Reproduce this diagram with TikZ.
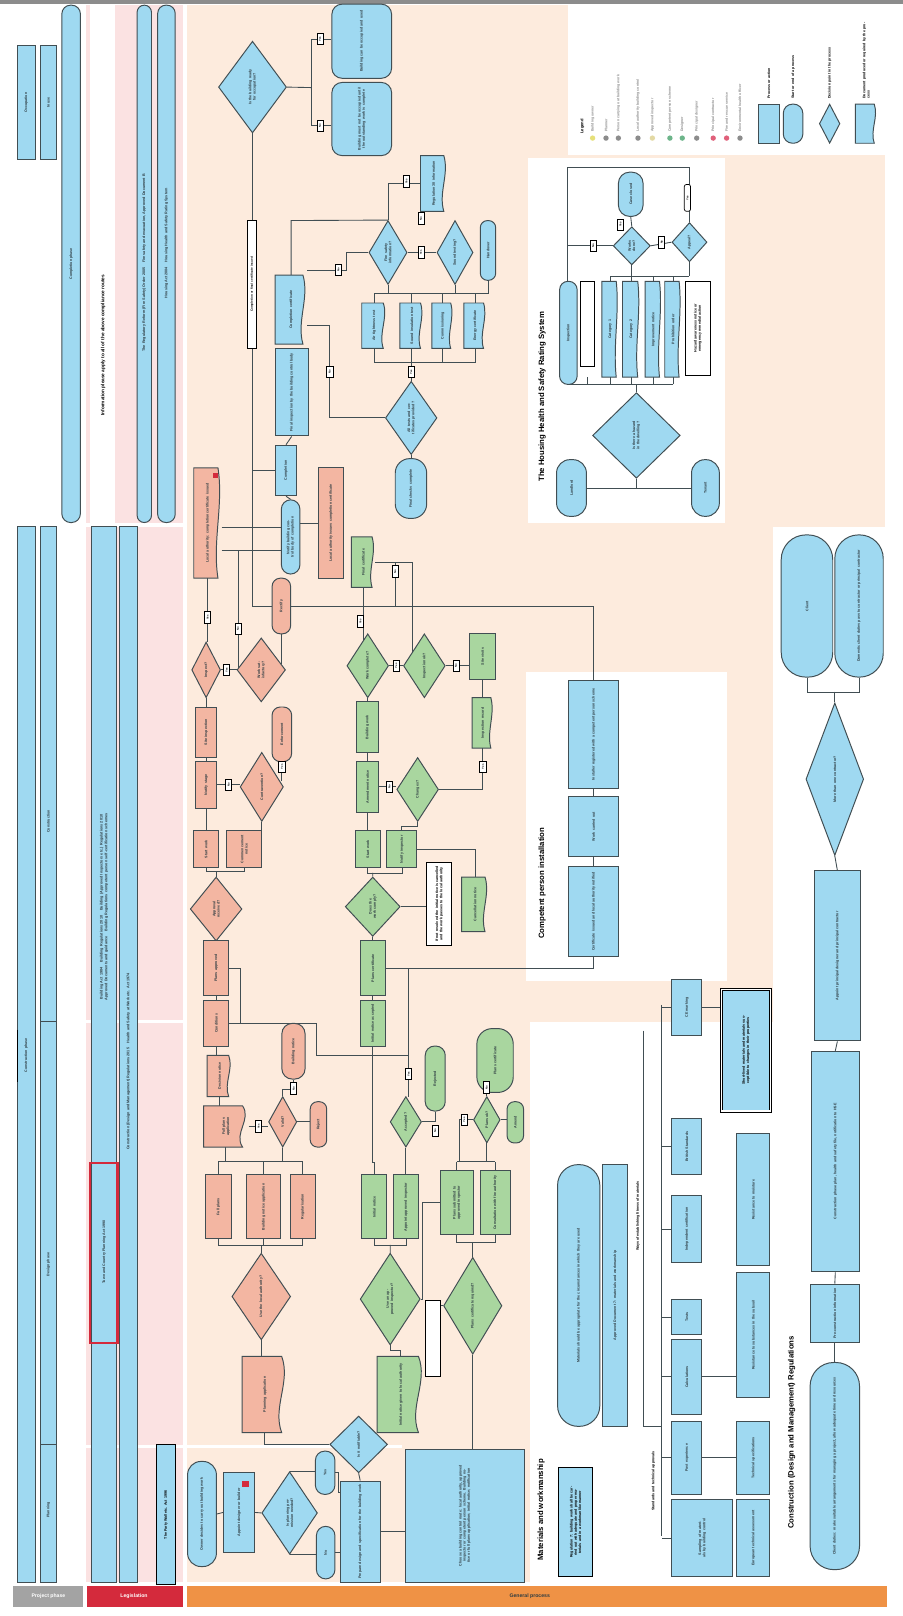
\documentclass[tikz,border=0pt]{standalone}
\usepackage{fontspec}
\setmainfont{Liberation Sans}
\usetikzlibrary{shapes.geometric}
\pgfdeclarelayer{bg}\pgfdeclarelayer{lines}
\pgfsetlayers{bg,lines,main}
\definecolor{peach}{HTML}{FDEBDD}
\definecolor{pinkbg}{HTML}{FBE2E2}
\definecolor{blueF}{HTML}{9FD9F1}
\definecolor{lineC}{HTML}{414E53}
\definecolor{pinkF}{HTML}{F3B6A2}
\definecolor{greenF}{HTML}{A9D69F}
\definecolor{txtC}{HTML}{2E3C42}
\definecolor{greyBar}{HTML}{A3A3A3}
\definecolor{redBar}{HTML}{D42A3C}
\definecolor{orangeBar}{HTML}{EF9245}
\definecolor{legG}{HTML}{8C8C8C}
\definecolor{dotY}{HTML}{E6E07A}
\definecolor{dotB}{HTML}{E3D9A4}
\definecolor{dotG}{HTML}{6DB58A}
\definecolor{dotR}{HTML}{E0607A}
\tikzset{
 bx/.style={draw=lineC, fill=blueF, line width=0.95pt, inner sep=0pt},
 pbx/.style={bx, fill=pinkF},
 gbx/.style={bx, fill=greenF},
 wbx/.style={draw=black, fill=white, line width=0.95pt, inner sep=0pt},
 txt/.style={font=\bfseries\fontsize{3.5}{4.1}\selectfont, text=txtC, align=center, inner sep=0pt},
 btxt/.style={font=\bfseries\fontsize{3.5}{4.1}\selectfont, text=black, align=center, inner sep=0pt},
 ttl/.style={font=\bfseries\fontsize{7.5}{8}\selectfont, text=black, inner sep=0pt, rotate=90},
 ln/.style={draw=lineC, line width=0.85pt},
 lab/.style={draw=black, fill=white, line width=0.7pt, inner sep=0pt, minimum width=6pt, minimum height=11pt, font=\bfseries\fontsize{2.6}{3}\selectfont, text=black},
}
\newcommand\RN[7]{%
 \pgfmathsetmacro\myW{#4-#2}\pgfmathsetmacro\myH{#5-#3}%
 \pgfmathsetmacro\myX{(#2+#4)/2}\pgfmathsetmacro\myY{(#3+#5)/2}%
 \pgfmathsetmacro\myT{max(#5-#3-6,4)}%
 \node[#1, minimum width=\myW pt, minimum height=\myH pt] (#6) at (\myX,\myY) {};
 \node[txt, rotate=90, text width=\myT pt] at (#6.center) {#7};}
\newcommand\DN[7]{%
 \pgfmathsetmacro\myW{#4-#2}\pgfmathsetmacro\myH{#5-#3}%
 \pgfmathsetmacro\myX{(#2+#4)/2}\pgfmathsetmacro\myY{(#3+#5)/2}%
 \pgfmathsetmacro\myT{max((#5-#3)*0.5,4)}%
 \node[#1, diamond, minimum width=\myW pt, minimum height=\myH pt] (#6) at (\myX,\myY) {};
 \node[txt, rotate=90, text width=\myT pt] at (#6.center) {#7};}
\newcommand\DOC[7]{%
 \pgfmathsetmacro\myW{#4-#2}\pgfmathsetmacro\myH{#5-#3}%
 \pgfmathsetmacro\myX{(#2+#4)/2}\pgfmathsetmacro\myY{(#3+#5)/2}%
 \pgfmathsetmacro\myT{max(#5-#3-6,4)}%
 \pgfmathsetmacro\myD{0.13*(#4-#2)}%
 \pgfmathsetmacro\myR{#4-\myD}%
 \pgfmathsetmacro\myA{#3+(#5-#3)/3}\pgfmathsetmacro\myB{#3+2*(#5-#3)/3}%
 \pgfmathsetmacro\myP{#4+\myD*0.6}\pgfmathsetmacro\myQ{#4-\myD*2.6}%
 \node[minimum width=\myW pt, minimum height=\myH pt, inner sep=0pt] (#6) at (\myX,\myY) {};
 \draw[bx, fill=#1] (#2,#3) -- (\myR,#3) .. controls (\myP,\myA) and (\myQ,\myB) .. (\myR,#5) -- (#2,#5) -- cycle;
 \node[txt, rotate=90, text width=\myT pt] at (#6.center) {#7};}
\begin{document}
\begin{tikzpicture}[x=1pt,y=-1pt]
\useasboundingbox (0,0) rectangle (876,1568);
% ---------- backgrounds
\begin{pgfonlayer}{bg}
\fill[white] (0,0) rectangle (876,1568);
\fill[pinkbg] (83,5) rectangle (178,1535);
\fill[white] (87,5) rectangle (112,507);
\fill[peach] (181,5) rectangle (859,1535);
\fill[white] (551,0) rectangle (876,150);
\fill[white] (512,153) rectangle (703,507);
\fill[white] (750,511) rectangle (876,1535);
\fill[white] (510,652) rectangle (705,952);
\fill[white] (514,992) rectangle (859,1535);
\fill[white] (83,507) rectangle (181,511);
\fill[white] (83,990) rectangle (181,993);
\fill[white] (83,1402) rectangle (390,1405);
\fill[black!45] (0,0) rectangle (876,4);
\end{pgfonlayer}
% ---------- bottom bars
\fill[greyBar] (13,1539) rectangle (81,1559);
\node[font=\bfseries\fontsize{5}{6}\selectfont, text=white] at (47,1549) {Project phase};
\fill[redBar] (84,1539) rectangle (178,1559);
\node[font=\bfseries\fontsize{5}{6}\selectfont, text=white] at (130,1549) {Legislation};
\fill[orangeBar] (181,1539) rectangle (861,1559);
\node[font=\bfseries\fontsize{5}{6}\selectfont, text=txtC] at (514,1549) {General process};
% ---------- left lanes
\RN{bx}{17}{44}{34}{155}{s1}{Occupation}
\RN{bx}{39}{44}{55}{155}{s2}{In use}
\RN{bx, rounded corners=8.5pt}{60}{5}{78}{507}{s3}{Completion phase}
\node[font=\bfseries\fontsize{4.6}{5}\selectfont, rotate=90, text=black] at (100,335) {Information please apply to all of the above compliance routes};
\RN{bx, rounded corners=7pt}{133}{5}{147}{507}{s4}{}
\node[txt, rotate=90, font=\bfseries\fontsize{3.6}{4}\selectfont] at (140,255) {The Regulatory Reform (Fire Safety) Order 2005 \quad Fire safety and evacuation, Approved Document B};
\RN{bx, rounded corners=8pt}{153}{5}{170}{507}{s5}{}
\node[txt, rotate=90, font=\bfseries\fontsize{3.6}{4}\selectfont] at (161.5,236) {Housing Act 2004 \quad Housing Health and Safety Rating System};
\RN{bx}{17}{511}{34}{1535}{b1}{}
\node[txt, rotate=90] at (25.5,1024) {Construction phase};
\draw[black, line width=1.2pt] (17,999) -- (17,1050);
\RN{bx}{39}{511}{55}{991}{b2a}{}
\node[txt, rotate=90] at (47,797) {Construction};
\RN{bx}{39}{991}{55}{1402}{b2b}{}
\node[txt, rotate=90] at (47,1227) {Design phase};
\RN{bx}{39}{1402}{55}{1535}{b2c}{}
\node[txt, rotate=90] at (47,1465) {Planning};
\RN{bx}{89}{511}{113}{1535}{b3}{}
\node[txt, rotate=90, text width=520pt, font=\bfseries\fontsize{3.6}{4.6}\selectfont] at (101,880) {Building Act 1984 \quad Building Regulations 2010 \quad Building (Approved Inspectors etc.) Regulations 2010\\ Approved Documents and guidance \quad Building Regulations competent person self-certification schemes};
\draw[redBar, line width=2pt] (87,1128) rectangle (114,1303);
\node[txt, rotate=90] at (101,1215) {Town and Country Planning Act 1990};
\RN{bx}{116}{511}{133}{1535}{b4}{}
\node[txt, rotate=90, font=\bfseries\fontsize{3.6}{4}\selectfont] at (124.5,1030) {Construction (Design and Management) Regulations 2015 \quad Health and Safety at Work etc. Act 1974};
\RN{wbx, fill=blueF}{152}{1402}{170}{1537}{pw}{}
\node[btxt, rotate=90] at (161,1470) {The Party Wall etc. Act 1996};
% ---------- completion / occupation band (blue)
\DN{bx}{212}{40}{278}{129}{T1}{Is the building ready for occupation?}
\RN{bx, rounded corners=10pt}{322}{4}{380}{76}{T2}{Building can be occupied and used}
\RN{bx, rounded corners=10pt}{322}{80}{380}{151}{T3}{Building must not be occupied until the outstanding work is complete}
\RN{wbx}{240}{214}{249}{338}{T4}{}
\node[btxt, rotate=90, text width=118pt, font=\bfseries\fontsize{3}{3.4}\selectfont] at (T4.center) {Completion or final certificate issued};
\DOC{blueF}{267}{267}{298}{334}{T5}{Completion certificate}
\RN{bx}{267}{338}{299}{423}{T6}{Final inspection by the building control body}
\RN{bx}{267}{432}{288}{481}{T16}{Completion}
\RN{bx, rounded corners=9pt}{273}{485}{291}{557}{T17}{Notify building control body of completion}
\DN{bx}{358}{214}{395}{276}{TA}{Fire safety information?}
\DN{bx}{424}{214}{459}{276}{TB}{Sound testing?}
\DOC{blueF}{408}{151}{434}{205}{TC}{Regulation 38 information}
\RN{bx, rounded corners=7pt}{466}{214}{481}{272}{TD}{Handover}
\DOC{blueF}{351}{294}{375}{338}{TE1}{Air tightness test}
\DOC{blueF}{388}{294}{411}{338}{TE2}{Sound insulation test}
\DOC{blueF}{419}{294}{440}{338}{TE3}{Commissioning}
\DOC{blueF}{450}{294}{472}{338}{TE4}{Energy certificate}
\DN{bx}{374}{370}{424}{441}{TF}{All tests and certificates provided?}
\RN{bx, rounded corners=14pt}{383.5}{445}{414}{503}{TG}{Final checks complete}
% ---------- construction band (pink)
\RN{pbx}{309}{454}{333}{561}{PK}{Local authority issues completion certificate}
\DOC{pinkF}{188}{454}{215}{561}{PA}{Local authority: completion certificate issued}
\fill[redBar] (207,459) rectangle (212,464);
\DN{pbx}{186}{623}{214}{677}{PE}{Inspect?}
\DN{pbx}{230}{619}{277}{681}{PF}{Work satisfactory?}
\RN{pbx, rounded corners=8pt}{264}{561}{282}{615}{PG}{Rectify}
\RN{pbx}{189.5}{686}{210.5}{735}{PH}{Site inspection}
\RN{pbx}{189.5}{739}{210.5}{784}{PI}{Notify stage}
\DN{pbx}{233}{730}{275}{797}{PJ}{Contravention?}
\RN{pbx, rounded corners=8pt}{264}{686}{283}{739}{PKk}{Enforcement}
\RN{pbx}{188}{806}{212}{842}{PL}{Start work}
\RN{pbx}{220}{806}{254}{842}{PM}{Commencement notice}
\DN{pbx}{184.6}{851}{234.8}{913}{PN}{Approval received?}
\RN{pbx}{197.6}{913}{222}{966}{PO}{Plans approved}
\RN{pbx}{197.6}{971}{222}{1015}{PP}{Conditions}
\DOC{pinkF}{201}{1024}{225}{1064}{PQ}{Decision notice}
\DOC{pinkF}{197.6}{1073}{241}{1113}{PR}{Full plans application}
\DN{pbx}{260.6}{1064}{288}{1113}{PV}{Valid?}
\RN{pbx, rounded corners=10pt}{273.5}{993}{296}{1047}{PW}{Building notice}
\RN{pbx, rounded corners=7pt}{301}{1069}{317}{1113}{PX}{Reject}
\RN{pbx}{199}{1140}{225}{1202}{PS}{Full plans}
\RN{pbx}{239.6}{1140}{272}{1202}{PT}{Building notice application}
\RN{pbx}{281.6}{1140}{306}{1202}{PU}{Regularisation}
\DN{pbx}{225}{1216}{282}{1300}{PDi}{Use the local authority?}
\DOC{pinkF}{235}{1316}{279}{1390}{PD}{Planning application}
% ---------- green (approved inspector)
\DOC{greenF}{341}{521}{364}{570}{G1}{Final certificate}
\DN{gbx}{336.6}{615}{377}{677}{G2}{Work complete?}
\DN{gbx}{391.5}{615}{432}{677}{G3}{Inspection ok?}
\RN{gbx}{456}{615}{480.5}{659}{G4}{Site visits}
\DOC{greenF}{458}{677}{479}{726}{G5}{Inspection record}
\RN{gbx}{346}{681}{367.3}{730}{G6}{Building work}
\RN{gbx}{346}{739}{367.3}{788}{G7}{Amendment notice}
\DN{gbx}{385}{735}{425.5}{797}{G8}{Changes?}
\RN{gbx}{344.7}{806}{369}{842}{G9}{Start work}
\RN{gbx}{375.4}{806}{404.5}{842}{G10}{Notify inspector}
\DN{gbx}{335}{851}{388.3}{908.5}{G11}{Does the work comply?}
\RN{wbx}{414}{837}{438.4}{917}{G12}{}
\node[btxt, rotate=90, text width=74pt] at (G12.center) {If not resolved the initial notice is cancelled and the work passes to the local authority};
\DOC{greenF}{448}{851}{474}{904}{G13}{Cancellation notice}
\RN{gbx}{349.5}{913}{374}{966}{G14}{Plans certificate}
\RN{gbx}{349.5}{971}{374}{1015}{G15}{Initial notice accepted}
\DN{gbx}{378.6}{1064}{409}{1113}{G16}{Accepted?}
\RN{gbx, rounded corners=9pt}{412.6}{1015}{432}{1078}{G17}{Rejected}
\RN{gbx}{351}{1140}{375.4}{1202}{G18}{Initial notice}
\RN{gbx}{382}{1140}{406}{1202}{G19}{Appoint approved inspector}
\RN{gbx}{427}{1136}{459.4}{1198}{G20}{Plans submitted to approved inspector}
\RN{gbx}{466}{1136}{495}{1198}{G21}{Consultation with fire authority}
\DN{gbx}{459.4}{1064}{485.3}{1109}{G22}{Plans ok?}
\RN{gbx, rounded corners=15pt}{462.7}{998}{498}{1060}{G23}{Plans certificate}
\RN{gbx, rounded corners=7pt}{492}{1069}{508}{1109}{G24}{Amend}
\DN{gbx}{349.5}{1216}{407.7}{1305}{G25}{Use an approved inspector?}
\DN{gbx}{430.4}{1220}{487}{1314}{G26}{Plans certificate required?}
\RN{wbx}{412.6}{1262}{427}{1336}{WB1}{}
\DOC{greenF}{366}{1316}{412}{1390}{GD}{Initial notice given to local authority}
% ---------- planning band
\RN{bx, rounded corners=13pt}{182}{1418}{210}{1520}{P1}{Owner decides to carry out building work}
\RN{bx}{217}{1429}{247}{1506}{R1}{Appoint designer or builder}
\fill[redBar] (235,1437) rectangle (242,1443);
\DN{bx}{254}{1428}{308}{1508}{D1}{Is planning permission needed?}
\RN{bx, rounded corners=9pt}{306}{1408}{325}{1450}{P2}{Yes}
\RN{bx, rounded corners=9pt}{307}{1481}{325}{1532}{P3}{No}
\RN{bx}{330}{1437}{369}{1535}{R2}{Prepare design and specification for the building work}
\DN{bx}{320}{1374}{376}{1429}{D2}{Is it notifiable?}
\RN{bx}{393}{1406}{509}{1535}{R3}{Choose a building control route: local authority, approved inspector or competent person scheme. Building notice or full plans application; initial notice; notification}
% ---------- HHSRS
\node[ttl] at (526,385) {The Housing Health and Safety Rating System};
\RN{bx, rounded corners=13pt}{540}{446}{569}{501}{HP1}{Landlord}
\RN{bx, rounded corners=13pt}{671}{446}{698}{501}{HP2}{Tenant}
\DN{bx}{575}{381}{660}{464}{HD}{Is there a hazard in the dwelling?}
\RN{bx, rounded corners=8pt}{543}{273}{560}{373}{HB1}{Inspection}
\RN{wbx}{563}{273}{577}{356}{HB2}{}
\DOC{blueF}{584}{273}{600}{366}{HB3}{Category 1}
\DOC{blueF}{604}{273}{621}{366}{HB4}{Category 2}
\DOC{blueF}{626}{273}{642}{366}{HB5}{Improvement notice}
\DOC{blueF}{645}{273}{661}{366}{HB6}{Prohibition order}
\RN{wbx}{665}{273}{689}{364}{HB7}{}
\node[btxt, rotate=90, text width=80pt] at (HB7.center) {Hazard awareness notice or emergency remedial action};
\DN{bx}{595}{220}{631}{257}{Hd1}{Works done?}
\DN{bx}{652}{216}{686}{254}{Hd2}{Appeal?}
\RN{bx, rounded corners=11pt}{600}{167}{624}{210}{Hp3}{Case closed}
% ---------- legend
\node[btxt, rotate=90, anchor=west, font=\bfseries\fontsize{4}{4}\selectfont] at (565,130) {Legend};
\foreach \xx/\cc/\tt in {575/dotY/Building owner, 588/legG/Planner, 600/legG/Person carrying out building work, 619/legG/Local authority building control, 633/dotB/Approved inspector, 650/dotG/Competent person scheme, 662/dotG/Designer, 676/legG/Principal designer, 692/dotR/Principal contractor, 705/dotR/Fire and rescue service, 718/legG/Environmental health officer}{
 \fill[\cc] (\xx,134) circle (2.6pt);
 \node[rotate=90, anchor=west, font=\bfseries\fontsize{3.4}{4}\selectfont, text=legG, inner sep=0pt] at (\xx,128) {\tt};}
\RN{bx}{736}{101}{756}{139}{L1}{}
\RN{bx, rounded corners=9pt}{760}{101}{779}{139}{L2}{}
\DN{bx}{795}{101}{815}{139}{L3}{}
\DOC{blueF}{830}{101}{851}{139}{L4}{}
\node[btxt, rotate=90, anchor=west, text width=55pt, align=left] at (746,96) {Process or action};
\node[btxt, rotate=90, anchor=west, text width=55pt, align=left] at (769.5,96) {Start or end of a process};
\node[btxt, rotate=90, anchor=west, text width=75pt, align=left] at (805,96) {Decision point in the process};
\node[btxt, rotate=90, anchor=west, text width=75pt, align=left] at (840.5,96) {Document produced or required by the process};
% ---------- CDM
\RN{bx, rounded corners=24pt}{758}{519}{808}{657}{O1}{Client}
\RN{bx, rounded corners=23pt}{810}{519}{857}{657}{O2}{Domestic client duties pass to contractor or principal contractor}
\DN{bx}{782}{682}{838}{830}{CD}{More than one contractor?}
\RN{bx}{790}{845}{835}{1010}{C1}{Appoint principal designer and principal contractor}
\RN{bx}{787}{1020}{834}{1234}{C2}{Construction phase plan, health and safety file, notification to HSE}
\RN{bx}{786}{1246}{834}{1303}{C3}{Pre-construction information}
\RN{bx, rounded corners=23pt}{786}{1322}{834}{1523}{C4}{Client duties: make suitable arrangements for managing a project, allow adequate time and resources}
\node[ttl] at (768,1390) {Construction (Design and Management) Regulations};
% ---------- Materials
\node[ttl] at (525,1465) {Materials and workmanship};
\RN{wbx, fill=blueF}{542}{1424}{575}{1530}{M1}{}
\node[btxt, rotate=90, text width=96pt] at (M1.center) {Regulation 7: building work shall be carried out with adequate and proper materials and in a workmanlike manner};
\RN{bx, rounded corners=20pt}{541}{1130}{582}{1384}{M2}{Materials should be appropriate for the circumstances in which they are used}
\RN{bx}{585}{1130}{609}{1384}{M3}{Approved Document 7: materials and workmanship}
\node[btxt, rotate=90] at (619,1180) {Ways of establishing fitness of materials};
\node[btxt, rotate=90] at (634,1437) {Standards and technical approvals};
\RN{bx}{652}{950}{681}{1005}{K0}{CE marking}
\RN{bx}{652}{1085}{681}{1140}{K01}{British Standards}
\RN{bx}{652}{1160}{681}{1225}{K02}{Independent certification}
\RN{bx}{652}{1261}{681}{1295}{K1}{Tests}
\RN{bx}{652}{1300}{681}{1372}{K2}{Calculations}
\RN{bx}{652}{1379}{681}{1450}{K3}{Past experience}
\RN{bx}{652}{1455}{711}{1530}{K4}{Sampling of materials by building control}
\RN{wbx, fill=blueF, double, double distance=1pt}{700}{960}{748}{1078}{K8}{}
\node[btxt, rotate=90, text width=110pt] at (K8.center) {Short-lived materials and materials susceptible to changes in their properties};
\RN{bx}{715}{1100}{747}{1228}{K9}{Resistance to moisture}
\RN{bx}{715}{1235}{747}{1356}{K5}{Resistance to substances in the subsoil}
\RN{bx}{715}{1379}{747}{1450}{K6}{Technical specifications}
\RN{bx}{715}{1455}{747}{1530}{K7}{European technical assessment}
% ---------- competent person
\node[ttl] at (526,857) {Competent person installation};
\RN{bx}{552}{660}{600}{765}{CP1}{Installer registered with a competent person scheme}
\RN{bx}{552}{773}{600}{831}{CP2}{Work carried out}
\RN{bx}{552}{841}{600}{928}{CP3}{Certificate issued and local authority notified}
% =================== connectors
\begin{pgfonlayer}{lines}
% top
\draw[ln] (T1.east) -- (302.6,85);
\draw[ln] (T2.west |- 0,38) -| (302.6,122) -- (T3.west |- 0,122);
\draw[ln] (T1.south) -- (T1.south |- 0,588) -- (576,588) -- (CP1.north);
\draw[ln] (T1.south |- T16.west) -- (T16.west);
\draw[ln] (T16.north) -- (T6.south);
\draw[ln] (T16.south) -- (T17.north);
\draw[ln] (282.5,267) -- (282.5,214) -- (TA.north);
\draw[ln] (TA.north) |- (TC.west);
\draw[ln] (298,262) -- (336,262) |- (TA.west);
\draw[ln] (298,316) -- (320,316) |- (TF.west);
\draw[ln] (TA.east) -- (TB.west);
\draw[ln] (363,285) -- (473.5,285);
\foreach \nn in {TA,TB,TD} \draw[ln] (\nn.south) -- (\nn.south |- 0,285);
\foreach \nn in {TE1,TE2,TE3,TE4} {\draw[ln] (\nn.north) -- (\nn.north |- 0,285); \draw[ln] (\nn.south) -- (\nn.south |- 0,352);}
\draw[ln] (363,352) -- (461,352);
\draw[ln] (399,352) -- (TF.north);
\draw[ln] (TF.south) -- (TF.south |- TG.north);
\draw[ln] (T17.east |- PK.west) -- (PK.west);
% pink
\draw[ln] (215,512) -- (T17.west |- 0,512);
\draw[ln] (215,534) -- (T17.west |- 0,534);
\draw[ln] (231,534) -- (231,648);
\draw[ln] (PA.south) -- (PA.south |- PE.north);
\draw[ln] (PE.east) -- (PF.west);
\draw[ln] (PG.south) -- (273,644);
\draw[ln] (PE.south) -- (PE.south |- PH.north);
\draw[ln] (PH.south) -- (PI.north);
\draw[ln] (PI.east) -- (PI.east -| PJ.west);
\draw[ln] (PKk.south) -- (273.5,758);
\draw[ln] (PI.south) -- (PI.south |- PL.north);
\draw[ln] (PJ.south) -- (PJ.south |- PM.north);
\draw[ln] (200,842) -- (200,846) -- (237,846) -- (237,842);
\draw[ln] (209.7,846) -- (PN.north);
\draw[ln] (PN.south) -- (PO.north);
\draw[ln] (PO.south) -- (PP.north);
\draw[ln] (PO.east) -- (233,939.5) -- (233,993);
\draw[ln] (PP.east) -- (307,993) -- (307,1024) -- (396.5,1024);
\draw[ln] (PP.south) -- (PP.south |- PQ.north);
\draw[ln] (PQ.south) -- (PQ.south |- PR.north);
\draw[ln] (PR.east) -- (PR.east -| PV.west);
\draw[ln] (PV.north) -- ++(0,-6) -| (PW.south);
\draw[ln] (PV.east) -- (PV.east -| PX.west);
\draw[ln] (212,1127) -- (294,1127);
\draw[ln] (219,1113) -- (219,1127);
\draw[ln] (PV.south) -- (PV.south |- 0,1127);
\foreach \nn in {PS,PT,PU} {\draw[ln] (\nn.north) -- (\nn.north |- 0,1127); \draw[ln] (\nn.south) -- (\nn.south |- 0,1208);}
\draw[ln] (212,1208) -- (294,1208);
\draw[ln] (253.5,1208) -- (PDi.north);
\draw[ln] (PDi.south) -- (PDi.south |- PD.north);
% green
\draw[ln] (G1.south) -- (352.5,621);
\draw[ln] (G1.east) -- (383.5,545.5) -- (383.5,588);
\draw[ln] (383.5,545.5) -- (400,545.5) -- (400,633);
\draw[ln] (G2.east) -- (G3.west);
\draw[ln] (G3.east) -- (G3.east -| G4.west);
\draw[ln] (G4.south) -- (G4.south |- G5.north);
\draw[ln] (G5.south) |- (G8.east);
\draw[ln] (G2.south) -- (G2.south |- G6.north);
\draw[ln] (G6.south) -- (G7.north);
\draw[ln] (G7.east) -- (G7.east -| G8.west);
\draw[ln] (G7.south) -- (G7.south |- G9.north);
\draw[ln] (G8.south) -- (G8.south |- 0,802) -| (G10.north);
\draw[ln] (356.8,842) -- (356.8,847) -- (390,847) -- (390,842);
\draw[ln] (361.6,847) -- (G11.north);
\draw[ln] (G11.east) -- (G11.east -| G12.west);
\draw[ln] (G10.east) -- (G10.east -| G13.north) -- (G13.north);
\draw[ln] (G11.south) -- (G11.south |- G14.north);
\draw[ln] (G14.south) -- (G15.north);
\draw[ln] (G14.east) -- (396.5,939.5) -- (396.5,1064);
\draw[ln] (CP3.south) |- (396.5,939.5);
\draw[ln] (G15.south) -- (G15.south |- 0,1128) -| (G18.north);
\draw[ln] (G16.south) -- (G16.south |- G19.north);
\draw[ln] (G16.east) -| (G17.south);
\draw[ln] (363.2,1202) -- (363.2,1208) -- (394,1208) -- (394,1202);
\draw[ln] (378.6,1208) -- (G25.north);
\draw[ln] (G22.west) -- (446,1086.5) -- (446,1127);
\draw[ln] (443.2,1127) -- (480.5,1127);
\draw[ln] (G22.south) -- (G22.south |- 0,1127);
\draw[ln] (G20.north) -- (G20.north |- 0,1127);
\draw[ln] (G21.north) -- (G21.north |- 0,1127);
\draw[ln] (G22.north) -- (G22.north |- G23.south);
\draw[ln] (G22.east) -- (G22.east -| G24.west);
\draw[ln] (443.2,1198) -- (443.2,1206) -- (480.5,1206) -- (480.5,1198);
\draw[ln] (458.7,1206) -- (G26.north);
\draw[ln] (G20.west) -- (410,1167) -- (410,1260.5) -- (G25.east);
\draw[ln] (G26.west) -- (G26.west -| WB1.east);
\draw[ln] (G25.south) -- ++(0,5) -| (GD.north);
\draw[ln] (G26.south) -- (G26.south |- R3.north);
% planning
\draw[ln] (P1.east) -- (R1.west);
\draw[ln] (R1.east) -- (D1.west);
\draw[ln] (D1.north) -- (D1.north -| P2.west);
\draw[ln] (D1.south) -- (D1.south -| P3.west);
\draw[ln] (P2.east) -- ++(2.5,0) |- ([yshift=-12pt]R2.north west);
\draw[ln] (P3.east) -- (P3.east -| R2.west);
\draw[ln] (D2.south) -- (R2.north);
\draw[ln] (R2.east) -- (R2.east -| R3.west);
\draw[ln] (PD.south) |- (D2.west);
% HHSRS
\draw[ln] (551,373) -- (653,373);
\foreach \xx in {551.5,570,592,612.5,634,653} \draw[ln] (\xx,373) -- (\xx,366);
\draw[ln] (HD.north) -- (HD.north |- 0,373);
\draw[ln] (592,268) -- (669,268);
\foreach \xx in {592,612.5,634,653} \draw[ln] (\xx,268) -- (\xx,273);
\draw[ln] (Hd1.south) -- (Hd1.south |- 0,268);
\draw[ln] (Hd2.south) -- (Hd2.south |- 0,268);
\draw[ln] (HP1.east) -- (HP2.west);
\draw[ln] (HD.south) -- (HD.south |- HP1.east);
\draw[ln] (Hd1.north) -- (Hp3.south);
\draw[ln] (551,273) -- (551,162) -- (669,162) -- (Hd2.north);
\draw[ln] (Hd1.west) -- (551,238.5);
\draw[ln] (Hd1.east) -- (Hd2.west);
% CDM
\draw[ln] (O1.south) -- ++(0,14) -| (O2.south);
\draw[ln] (810,671) -- (CD.north);
\draw[ln] (CD.south) -- (C1.north);
\draw[ln] (C1.south) -- (C2.north);
\draw[ln] (C2.south) -- (C3.north);
\draw[ln] (C3.south) -- (C4.north);
% materials
\draw[ln] (624,1000) -- (624,1384);
\draw[ln] (642,975) -- (642,1490);
\foreach \nn in {K0,K01,K02,K1,K2,K3,K4} \draw[ln] (\nn.west) -- (\nn.west -| 642,0);
\draw[ln] (624,1384) -- (642,1384);
\draw[ln] (K2.east) -- (K2.east -| K5.west);
\draw[ln] (K3.east) -- (K6.west);
\draw[ln] (K0.east) -- (K0.east -| K8.west);
% competent person
\draw[ln] (CP1.south) -- (CP2.north);
\draw[ln] (CP2.south) -- (CP3.north);
\end{pgfonlayer}
% =================== small yes/no labels
\foreach \px/\py/\tt in {310.5/38/Yes, 310.5/122/No, 394.5/176/Yes, 408.5/212/No, 408.5/245/Yes, 328.5/262/No, 320/361/No, 399/361/Yes, 201.5/599/Yes, 231/610/No, 220/650/Yes, 221.8/761.5/No, 273.5/744/Yes, 251/1093/Yes, 285/1056/No, 349.8/603/Yes, 383.5/554.5/No, 384.5/646/Yes, 442.5/646/No, 468.5/744/Yes, 377.8/763.5/No, 396.5/1042/Yes, 422.3/1097/No, 450.5/1086.5/Yes, 472.3/1055/No, 575.5/238.5/No, 602/218/Yes, 642/235/No}
 \node[lab] at (\px,\py) {\rotatebox{90}{\tt}};
\node[lab, minimum height=26pt, rounded corners=2pt] at (667,192) {\rotatebox{90}{Yes}};
\end{tikzpicture}
\end{document}
